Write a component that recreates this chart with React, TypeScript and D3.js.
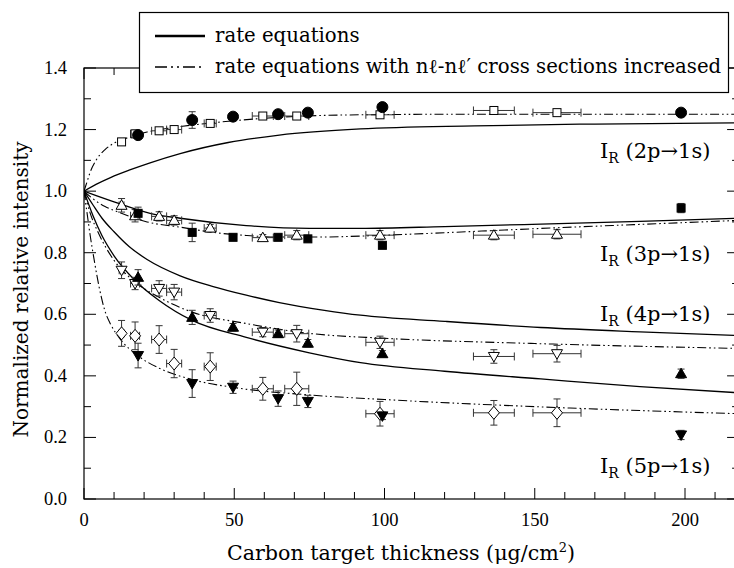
import React from "react";
import * as d3 from "d3";

// ---- data ----
const openX = [12.5, 17, 25, 30, 42, 59.5, 70.8, 98.5, 136.4, 157.4];
const openXErr = [0.8, 1.5, 2.5, 2.5, 2, 3.5, 4, 4.7, 6.8, 8];
const filledX = [18, 36, 49.6, 64.6, 74.5, 99.3, 198.7];

const open2p = [1.16, 1.186, 1.196, 1.2, 1.22, 1.244, 1.244, 1.248, 1.262, 1.255];
const open2pErr = [0.01, 0.012, 0.01, 0.01, 0.008, 0.008, 0.008, 0.008, 0.008, 0.008];
const filled2p = [1.182, 1.231, 1.242, 1.25, 1.255, 1.273, 1.255];
const filled2pErr = [0.01, 0.027, 0.01, 0.01, 0.01, 0.012, 0.01];

const open3p = [0.954, 0.92, 0.918, 0.905, 0.88, 0.849, 0.857, 0.857, 0.857, 0.86];
const open3pErr = [0.022, 0.02, 0.015, 0.015, 0.012, 0.01, 0.015, 0.015, 0.015, 0.015];
const filled3p = [0.928, 0.866, 0.85, 0.85, 0.845, 0.824, 0.945];
const filled3pErr = [0.02, 0.03, 0.01, 0.008, 0.008, 0.008, 0.015];

const open4p = [0.743, 0.7, 0.684, 0.672, 0.596, 0.542, 0.537, 0.509, 0.463, 0.472];
const open4pErr = [0.027, 0.02, 0.025, 0.025, 0.022, 0.015, 0.027, 0.02, 0.022, 0.027];
const filled4p = [0.72, 0.59, 0.558, 0.537, 0.506, 0.472, 0.407];
const filled4pErr = [0.025, 0.023, 0.012, 0.012, 0.012, 0.01, 0.015];

const open5p = [0.538, 0.53, 0.518, 0.44, 0.43, 0.358, 0.358, 0.277, 0.28, 0.28];
const open5pErr = [0.042, 0.045, 0.045, 0.046, 0.045, 0.037, 0.054, 0.04, 0.04, 0.045];
const filled5p = [0.466, 0.375, 0.363, 0.326, 0.317, 0.27, 0.208];
const filled5pErr = [0.04, 0.045, 0.02, 0.025, 0.02, 0.012, 0.015];

// model curves [thickness, intensity]
const solid2p: [number, number][] = [[0, 1], [4, 1.022], [9, 1.045], [15, 1.068], [22, 1.092], [32, 1.122], [48, 1.158], [65, 1.182], [92, 1.202], [130, 1.212], [170, 1.218], [218, 1.222]];
const dash2p: [number, number][] = [[0, 1], [1, 1.03], [2, 1.06], [4, 1.1], [7, 1.135], [10, 1.156], [15, 1.175], [21, 1.192], [30, 1.207], [43, 1.222], [65, 1.24], [92, 1.248], [130, 1.25], [218, 1.25]];
const solid3p: [number, number][] = [[0, 1], [5, 0.982], [10, 0.965], [22, 0.928], [32, 0.912], [54, 0.888], [75, 0.879], [92, 0.879], [120, 0.885], [152, 0.893], [185, 0.902], [218, 0.912]];
const dash3p: [number, number][] = [[0, 1], [3, 0.975], [7, 0.95], [12, 0.93], [21, 0.9], [32, 0.883], [43, 0.866], [54, 0.856], [65, 0.851], [80, 0.851], [92, 0.854], [120, 0.865], [150, 0.878], [185, 0.892], [218, 0.905]];
const solid4p: [number, number][] = [[0, 1], [3, 0.955], [6, 0.912], [10, 0.868], [15, 0.82], [21, 0.778], [32, 0.725], [43, 0.69], [54, 0.662], [65, 0.638], [80, 0.613], [92, 0.597], [120, 0.577], [152, 0.557], [185, 0.543], [218, 0.531]];
const dash4p: [number, number][] = [[0, 1], [2, 0.93], [5, 0.86], [10, 0.775], [17, 0.705], [25, 0.655], [36, 0.607], [54, 0.57], [75, 0.538], [100, 0.522], [150, 0.505], [218, 0.489]];
const solid5p: [number, number][] = [[0, 1], [3, 0.92], [6, 0.855], [10, 0.79], [17, 0.71], [25, 0.645], [36, 0.58], [54, 0.525], [75, 0.475], [92, 0.443], [120, 0.415], [152, 0.39], [185, 0.365], [218, 0.345]];
const dash5p: [number, number][] = [[0, 1], [1, 0.93], [2, 0.86], [3.5, 0.77], [5, 0.69], [7, 0.61], [9, 0.565], [12, 0.52], [18, 0.465], [25, 0.425], [36, 0.388], [50, 0.362], [75, 0.338], [100, 0.323], [150, 0.3], [218, 0.277]];

const xTicks = [0, 50, 100, 150, 200];
const yTicks = [0, 0.2, 0.4, 0.6, 0.8, 1.0, 1.2, 1.4];
const legendLabels = ["rate equations", "rate equations with n\u2113-n\u2113\u2032 cross sections increased"];
const curveLabels = ["2p\u21921s", "3p\u21921s", "4p\u21921s", "5p\u21921s"];
const curveLabelY = [1.108, 0.773, 0.578, 0.085];

const W = 734, H = 568;
const L = 84, T = 68, B = 499;
const x = d3.scaleLinear().domain([0, 218]).range([L, L + 218 * 3.005]);
const y = d3.scaleLinear().domain([0, 1.4]).range([B, T]);
const R = x(218);

const line = d3.line<[number, number]>().x(d => x(d[0])).y(d => y(d[1])).curve(d3.curveMonotoneX);
const DASH = "9,3,1.6,3,1.6,3";
const SERIF = "'DejaVu Serif', serif";
const TICKFONT = "'Liberation Serif', 'Times New Roman', serif";
const tickStyle: React.CSSProperties = { fontFamily: TICKFONT, fontSize: "18.5px" };

type Shape = "sqOpen" | "circle" | "triUpOpen" | "sqFilled" | "triDownOpen" | "triUpFilled" | "diamondOpen" | "triDownFilled";

function Marker({ cx, cy, shape }: { cx: number; cy: number; shape: Shape }) {
  const open = shape.includes("Open");
  const fill = open ? "#fff" : "#000";
  const common = { fill, stroke: "#000", strokeWidth: 1 };
  switch (shape) {
    case "sqOpen":
    case "sqFilled":
      return <rect x={cx - 4} y={cy - 4} width={8} height={8} {...common} />;
    case "circle":
      return <circle cx={cx} cy={cy} r={5.5} {...common} />;
    case "triUpOpen":
    case "triUpFilled":
      return <path d={`M${cx},${cy - 5.5}L${cx + 5.5},${cy + 4}L${cx - 5.5},${cy + 4}Z`} {...common} />;
    case "triDownOpen":
    case "triDownFilled":
      return <path d={`M${cx},${cy + 5.5}L${cx + 5.5},${cy - 4}L${cx - 5.5},${cy - 4}Z`} {...common} />;
    case "diamondOpen":
      return <path d={`M${cx},${cy - 6.5}L${cx + 5.5},${cy}L${cx},${cy + 6.5}L${cx - 5.5},${cy}Z`} {...common} />;
  }
  return null;
}

function Series({ xs, ys, yErr, xErr, shape }: { xs: number[]; ys: number[]; yErr: number[]; xErr?: number[]; shape: Shape }) {
  const ec = "#333";
  return (
    <g>
      {xs.map((xv, i) => {
        const cx = x(xv), cy = y(ys[i]);
        const y1 = y(ys[i] + yErr[i]), y2 = y(ys[i] - yErr[i]);
        const xe = xErr ? xErr[i] : 0;
        const x1 = x(xv - xe), x2 = x(xv + xe);
        return (
          <g key={i} stroke={ec} strokeWidth={1} fill="none">
            <line x1={cx} x2={cx} y1={y1} y2={y2} />
            <line x1={cx - 3.5} x2={cx + 3.5} y1={y1} y2={y1} />
            <line x1={cx - 3.5} x2={cx + 3.5} y1={y2} y2={y2} />
            {xe > 0 && (
              <>
                <line x1={x1} x2={x2} y1={cy} y2={cy} />
                <line x1={x1} x2={x1} y1={cy - 4} y2={cy + 4} />
                <line x1={x2} x2={x2} y1={cy - 4} y2={cy + 4} />
              </>
            )}
          </g>
        );
      })}
      {xs.map((xv, i) => (
        <Marker key={"m" + i} cx={x(xv)} cy={y(ys[i])} shape={shape} />
      ))}
    </g>
  );
}

export default function App() {
  const xMinor = d3.range(0, 219, 10);
  const yMinor = d3.range(0, 14.01, 1).map(v => v / 10);
  return (
    <svg width={W} height={H} style={{ position: "absolute", left: 0, top: 0, background: "#fff" }}>
      <rect x={0} y={0} width={W} height={H} fill="#fff" />
      <defs>
        <clipPath id="plot">
          <rect x={L} y={T} width={R - L} height={B - T} />
        </clipPath>
      </defs>
      {/* curves */}
      <g clipPath="url(#plot)" fill="none" stroke="#000">
        {[solid2p, solid3p, solid4p, solid5p].map((c, i) => (
          <path key={"s" + i} d={line(c) || ""} strokeWidth={1.3} />
        ))}
        {[dash2p, dash3p, dash4p, dash5p].map((c, i) => (
          <path key={"d" + i} d={line(c) || ""} strokeWidth={1.1} strokeDasharray={DASH} />
        ))}
      </g>
      {/* data */}
      <Series xs={openX} ys={open2p} yErr={open2pErr} xErr={openXErr} shape="sqOpen" />
      <Series xs={filledX} ys={filled2p} yErr={filled2pErr} shape="circle" />
      <Series xs={openX} ys={open3p} yErr={open3pErr} xErr={openXErr} shape="triUpOpen" />
      <Series xs={filledX} ys={filled3p} yErr={filled3pErr} shape="sqFilled" />
      <Series xs={openX} ys={open4p} yErr={open4pErr} xErr={openXErr} shape="triDownOpen" />
      <Series xs={filledX} ys={filled4p} yErr={filled4pErr} shape="triUpFilled" />
      <Series xs={openX} ys={open5p} yErr={open5pErr} xErr={openXErr} shape="diamondOpen" />
      <Series xs={filledX} ys={filled5p} yErr={filled5pErr} shape="triDownFilled" />

      {/* frame & ticks */}
      <rect x={L} y={T} width={R - L} height={B - T} fill="none" stroke="#000" strokeWidth={1.2} />
      <g stroke="#000" strokeWidth={1}>
        {xMinor.map(t => {
          const len = t % 50 === 0 ? 11 : 7;
          return (
            <g key={"xt" + t}>
              <line x1={x(t)} x2={x(t)} y1={B} y2={B - len} />
              <line x1={x(t)} x2={x(t)} y1={T} y2={T + len} />
            </g>
          );
        })}
        {yMinor.map((v, i) => {
          const len = i % 2 === 0 ? 12 : 7;
          return (
            <g key={"yt" + i}>
              <line x1={L} x2={L + len} y1={y(v)} y2={y(v)} />
              <line x1={R} x2={R - len} y1={y(v)} y2={y(v)} />
            </g>
          );
        })}
      </g>
      <g fill="#000">
        {xTicks.map(t => (
          <text key={"xl" + t} x={x(t)} y={B + 27} textAnchor="middle" style={tickStyle}>{t}</text>
        ))}
        {yTicks.map(v => (
          <text key={"yl" + v} x={L - 17} y={y(v) + 6} textAnchor="end" style={tickStyle}>{v.toFixed(1)}</text>
        ))}
      </g>

      {/* axis titles */}
      <text x={x(105.5)} y={560} textAnchor="middle" fontFamily={SERIF} fontSize={20.6}>
        Carbon target thickness (&#956;g/cm<tspan dy={-8} fontSize={13}>2</tspan><tspan dy={8}>)</tspan>
      </text>
      <text transform={`translate(28,${(T + B) / 2 + 6}) rotate(-90)`} textAnchor="middle" fontFamily={SERIF} fontSize={20}>
        Normalized relative intensity
      </text>

      {/* curve labels */}
      {curveLabels.map((lab, i) => (
        <text key={"cl" + i} x={600} y={y(curveLabelY[i])} fontFamily={SERIF} fontSize={21}>
          I<tspan dy={5} fontSize={14}>R</tspan><tspan dy={-5}>{" (" + lab + ")"}</tspan>
        </text>
      ))}

      {/* legend */}
      <rect x={139.5} y={12.5} width={589} height={80} fill="#fff" stroke="#000" strokeWidth={1.2} />
      <line x1={155} x2={205} y1={36} y2={36} stroke="#000" strokeWidth={2.5} />
      <line x1={155} x2={205} y1={67} y2={67} stroke="#000" strokeWidth={1.5} strokeDasharray="12,4,2,4,2,4" />
      <text x={215} y={42} fontFamily={SERIF} fontSize={19.7}>{legendLabels[0]}</text>
      <text x={215} y={73} fontFamily={SERIF} fontSize={19.7}>{legendLabels[1]}</text>
    </svg>
  );
}
